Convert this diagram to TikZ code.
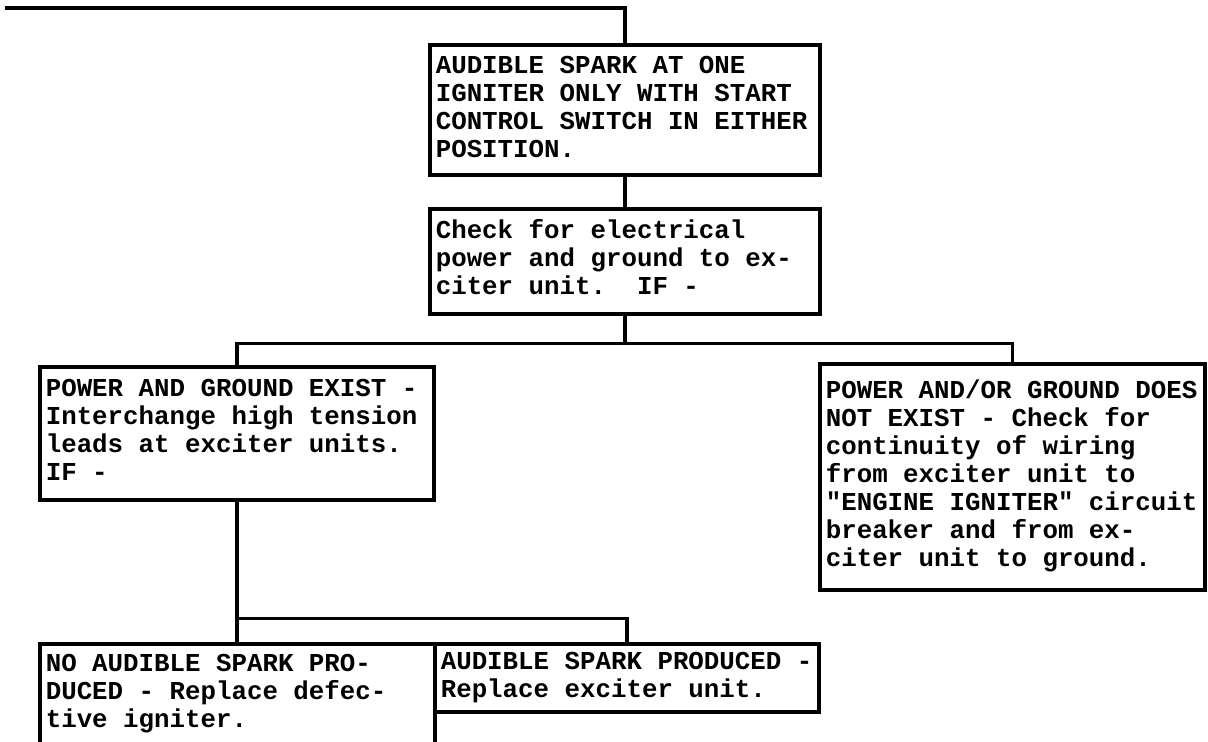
\documentclass[tikz,border=0pt]{standalone}
\usepackage{fontspec}
\setmonofont{Liberation Mono}
\usepackage{tikz}
\newcommand{\stepfont}{\ttfamily\bfseries\fontsize{12.9}{14}\selectfont}
% typewriter spacing: every space as wide as a letter
\newcommand{\steptext}[1]{\spaceskip=\fontcharwd\font`\x\relax\xspaceskip=\spaceskip\begin{tabular}{@{}l@{}}#1\end{tabular}}
\tikzstyle{stepbox} = [rectangle, draw=black, line width=1.8pt, anchor=north west, align=left, inner xsep=3pt, inner ysep=0pt, font=\stepfont]
\tikzstyle{link} = [line width=1.8pt]
\begin{document}
\begin{tikzpicture}[x=0.5pt, y=-0.5pt]
    \useasboundingbox (0,0) rectangle (1208,741);
    \coordinate (entry) at (5,8);
    \node (spark) [stepbox, text width=189pt, minimum height=65pt] at (428,43) {\steptext{AUDIBLE SPARK AT ONE\\IGNITER ONLY WITH START\\CONTROL SWITCH IN EITHER\\POSITION.}};
    \draw [link] (entry) -| (spark.north);
    \node (check) [stepbox, text width=189pt, minimum height=52.5pt] at (428,207) {\steptext{Check for electrical\\power and ground to ex-\\citer unit.\ \ IF -}};
    \draw [link] (spark) -- (check);
    \node (exist) [stepbox, text width=191pt, minimum height=66.5pt] at (38,365) {\steptext{POWER AND GROUND EXIST -\\Interchange high tension\\leads at exciter units.\\IF -}};
    \draw [link] (check.south) -- ++(0,28) -| (exist.north);
    \node (noexist) [stepbox, text width=186.5pt, minimum height=113pt] at (818,362) {\steptext{POWER AND/OR GROUND DOES\\NOT EXIST - Check for\\continuity of wiring\\from exciter unit to\\"ENGINE IGNITER" circuit\\breaker and from ex-\\citer unit to ground.}};
    \draw [link] (check.south) ++(0,28) -| (noexist.north);
    \node (igniter) [stepbox, text width=191.5pt, minimum height=50pt] at (38,642) {\steptext{NO AUDIBLE SPARK PRO-\\DUCED - Replace defec-\\tive igniter.}};
    \draw [link] (exist.south) -- (exist.south |- igniter.north);
    \node (replace) [stepbox, text width=186pt, minimum height=34pt] at (433,642) {\steptext{AUDIBLE SPARK PRODUCED -\\Replace exciter unit.}};
    \draw [link] (exist.south) ++(0,117) -| (replace.north);
\end{tikzpicture}
\end{document}
